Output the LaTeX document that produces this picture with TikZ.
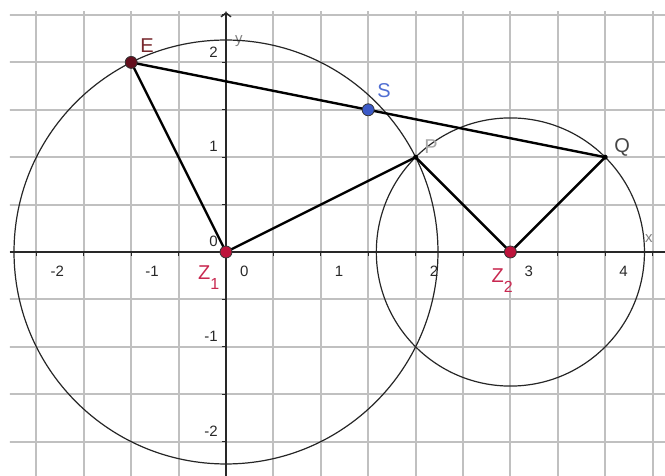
\documentclass[tikz,border=0pt]{standalone}
\usepackage{fontspec}
\setmainfont{Liberation Sans}
\usetikzlibrary{arrows.meta}
\definecolor{gridgray}{RGB}{192,192,192}
\definecolor{axisgray}{RGB}{40,40,40}
\definecolor{ptcrimson}{RGB}{190,20,60}
\definecolor{lblcrimson}{RGB}{200,40,80}
\definecolor{ptmaroon}{RGB}{100,15,30}
\definecolor{lblmaroon}{RGB}{120,40,45}
\definecolor{ptblue}{RGB}{60,90,200}
\definecolor{lblblue}{RGB}{80,110,210}
\definecolor{lblgray}{RGB}{70,70,70}
\begin{document}
\begin{tikzpicture}[x=94.8pt,y=94.8pt,
  gridline/.style={draw=gridgray,line width=1.9pt},
  axisline/.style={draw=axisgray,line width=1.4pt},
  tickline/.style={draw=axisgray,line width=1pt},
  numlbl/.style={font=\fontsize{15}{15}\selectfont,text=axisgray,inner sep=0pt},
  ptlbl/.style={font=\fontsize{20}{20}\selectfont,inner sep=0pt,anchor=base west},
  axlbl/.style={font=\fontsize{15}{15}\selectfont,text=gray,inner sep=0pt,anchor=base west},
  seg/.style={draw=black,line width=2.4pt,line join=round,line cap=round},
  circ/.style={draw=black!85,line width=1.2pt},
  bigdot/.style={circle,draw=black!80,line width=0.8pt,minimum size=12pt,inner sep=0pt},
  smalldot/.style={circle,fill=black,minimum size=5pt,inner sep=0pt},
]
\useasboundingbox (-226pt,-224pt) rectangle (439pt,252pt);
% grid
\begin{scope}
  \clip (-216pt,-224pt) rectangle (439pt,240pt);
  \draw[gridline,step=0.5] (-3,-3) grid (5,3);
\end{scope}
% axes
\draw[axisline] (-216pt,0) -- (439pt,0);
\draw[axisline,-{Straight Barb[length=4pt,width=10pt]}] (0,-224pt) -- (0,240pt);
\foreach \t in {-2,-1.5,...,4.5} \draw[tickline] (\t,0) -- ++(0,-4pt);
\foreach \t in {-2,-1.5,...,2.5} \draw[tickline] (0,\t) -- ++(-4pt,0);
\foreach \t [count=\i] in {-2,-1,0,1,2,3,4}
  \node[numlbl,anchor=west] (xl\i) at ([shift={(14pt,-19pt)}]\t,0) {\t};
\foreach \t [count=\i] in {-2,-1,0,1,2}
  \node[numlbl,anchor=east] (yl\i) at ([shift={(-8pt,10.5pt)}]0,\t) {\t};
\node[axlbl] (xlab) at (419pt,9pt) {x};
\node[axlbl] (ylab) at (9pt,208pt) {y};
% points
\coordinate (Z1) at (0,0);
\coordinate (Z2) at (3,0);
\coordinate (E) at (-1,2);
\coordinate (P) at (2,1);
\coordinate (Q) at (4,1);
\coordinate (S) at (1.5,1.5);
% circles
\draw[circ] (Z1) circle[radius=2.2360680];
\draw[circ] (Z2) circle[radius=1.4142136];
% segments
\draw[seg] (E) -- (Q);
\draw[seg] (E) -- (Z1) -- (P) -- (Z2) -- (Q);
% dots
\node[smalldot] (Pdot) at (P) {};
\node[smalldot] (Qdot) at (Q) {};
\node[bigdot,fill=ptmaroon] (Edot) at (E) {};
\node[bigdot,fill=ptblue] (Sdot) at (S) {};
\node[bigdot,fill=ptcrimson] (Z1dot) at (Z1) {};
\node[bigdot,fill=ptcrimson] (Z2dot) at (Z2) {};
% labels
\node[ptlbl,text=lblmaroon] (Elbl) at ([shift={(9pt,10pt)}]E) {E};
\node[ptlbl,text=lblblue] (Slbl) at ([shift={(9pt,12.5pt)}]S) {S};
\node[ptlbl,text=gray!70] (Plbl) at ([shift={(8.5pt,4pt)}]P) {P};
\node[ptlbl,text=lblgray] (Qlbl) at ([shift={(9pt,5pt)}]Q) {Q};
\node[ptlbl,text=lblcrimson] (Z1lbl) at ([shift={(-28pt,-28pt)}]Z1) {Z\raisebox{-10pt}{\fontsize{16}{16}\selectfont 1}};
\node[ptlbl,text=lblcrimson] (Z2lbl) at ([shift={(-19pt,-31pt)}]Z2) {Z\raisebox{-10pt}{\fontsize{16}{16}\selectfont 2}};
\end{tikzpicture}
\end{document}
